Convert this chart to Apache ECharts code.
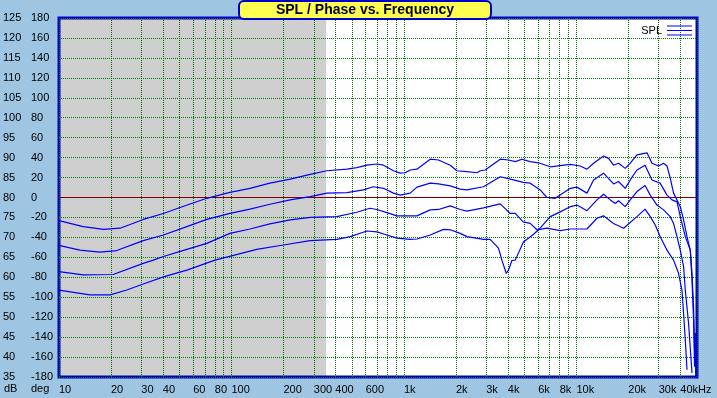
<!DOCTYPE html>
<html><head><meta charset="utf-8">
<script src="https://cdn.jsdelivr.net/npm/echarts@6/dist/echarts.min.js"></script>
<style>html,body{margin:0;padding:0;background:#9EC6E2;} #c{width:717px;height:398px;}</style>
</head><body><div id="c"></div>
<script>
// ---- data (frequency in Hz, SPL in dB) ----
const freqA = [10,13.8,18.1,22.6,30.8,40.3,50.3,71.9,98,128,167,219,286,357,467,533,610,697,761,869,951,1016,1087,1189,1420,1586,1854,2027,2317,2649,2768,2958,3615,4040,4418,4830,5395,6030,7047,9204,10520,11510,12570,14360,15350,16410,17540,19180,20510,22430,25640,27420,29940,31990,33500,35000,36560,38280,40000,41800,43750,45710,46770,47760,48400,48860,49200,49520];
const splA = [74.2,72.7,72.0,72.3,74.5,76.0,77.5,79.8,81.3,82.3,83.6,84.6,85.8,86.7,87.1,87.5,88.1,88.4,88.1,86.7,86.1,86.2,86.9,87.1,89.6,89.4,88.1,86.7,86.5,86.2,86.7,86.9,89.6,89.4,89.0,89.6,89.0,88.7,87.7,88.3,87.9,87.1,88.6,90.4,89.8,88.1,88.6,87.3,88.6,90.7,91.2,88.6,87.9,88.6,87.9,84.8,81.1,79.4,77.7,74.4,70.2,66.8,61.0,52.6,42,46,37,33];

const freqB = [10,13.2,17.3,21.6,30.8,40.3,55.1,71.9,98,128,167,219,286,357,467,582,665,761,869,951,1087,1189,1420,1586,1854,2118,2317,2891,3615,4315,4911,5395,6166,6745,7534,9204,10070,11510,12570,14360,16410,17540,19180,20510,22430,24990,27420,30550,33500,35810,38280,40000,42760,45710,46770,47760,48400,48900,49300];
const splB = [68.0,66.8,66.3,66.7,69.2,70.6,72.7,74.5,76.0,77.1,78.3,79.4,80.2,81.1,81.2,81.9,82.7,82.3,81.1,80.6,81.1,82.6,83.6,83.4,82.9,82.1,81.9,82.7,85.2,84.4,83.8,83.6,81.9,80.0,79.8,82.3,82.6,81.1,84.4,86.1,83.4,84.0,82.3,84.4,86.9,88.1,84.4,83.6,80.6,79.4,78.9,75.2,70.2,66.8,59.3,49.3,37.6,44,34];

const freqC = [10,13.8,20.6,30.8,35.2,40.3,55.1,71.9,98,128,167,219,286,408,533,636,697,796,910,1087,1189,1420,1586,1854,2118,2317,2891,3615,3758,4130,4418,4911,5395,5902,6745,8054,9204,10520,11510,13150,14360,16410,18770,22430,24990,26800,28650,30550,33500,36560,39070,40890,41800,42760,43750];
const splC = [61.4,60.6,60.7,63.5,64.3,65.2,67.0,68.5,71.0,72.1,73.4,74.4,75.0,75.2,76.3,77.3,77.0,76.2,75.4,75.4,75.4,76.9,77.0,77.9,77.0,76.6,77.4,78.4,77.7,76.0,76.0,73.9,73.5,71.9,72.3,71.7,72.1,72.1,72.1,74.8,75.4,73.5,72.3,75.2,77.1,75.2,73.1,70.2,66.8,64.3,61.0,56.8,51.0,44.3,36.8];

const freqD = [10,15.1,19.8,24.7,30.8,40.3,55.1,80.3,140,200,286,408,488,610,697,796,910,1087,1189,1420,1694,1854,2118,2317,2891,3162,3532,3697,3914,4040,4224,4418,4936,5272,5636,6030,7047,8054,9204,10070,11510,13150,14360,15720,16800,17540,19180,20510,22430,24990,26800,29300,31990,35000,36560,38280,40000,41800,42760,44670,46770];
const splD = [56.8,55.6,55.6,56.8,58.3,60.1,61.8,64.3,67.0,68.1,69.2,69.5,70.2,71.6,71.4,70.6,69.8,69.5,69.6,70.6,72.0,71.9,71.0,70.2,69.5,69.5,67.3,64.3,61.0,61.8,64.2,64.3,68.9,69.8,70.8,71.9,75.2,76.4,77.7,78.1,76.7,79.4,80.8,79.4,78.5,79.2,77.7,79.4,81.5,83.0,80.6,78.1,76.9,75.2,73.5,70.2,66.8,62.7,56.8,48.5,36.0];

// ---- ticks ----
const xGridValues = [10,20,30,40,50,60,70,80,90,100,200,300,400,500,600,700,800,900,1000,2000,3000,4000,5000,6000,7000,8000,9000,10000,20000,30000,40000,50000];
const xLabelValues = [10,20,30,40,60,80,100,200,300,400,600,1000,2000,3000,4000,6000,8000,10000,20000,30000,40000];
const xLabelTexts = ['10','20','30','40','60','80','100','200','300','400','600','1k','2k','3k','4k','6k','8k','10k','20k','30k','40kHz'];
const grayEndFreq = 354;
const refLineDb = 80;

const FONT = '"Liberation Sans", Arial, sans-serif';
function xLabel(v){
  let best = 0, bd = Infinity;
  xLabelValues.forEach((t,i)=>{const d=Math.abs(Math.log10(t)-Math.log10(v)); if(d<bd){bd=d;best=i;}});
  return bd < 0.01 ? xLabelTexts[best] : '';
}
const pairs = (f, s) => f.map((v,i)=>[v, s[i]]);
const lineSeries = (f, s) => ({
  type:'line', name:'SPL', data: pairs(f,s), symbol:'none', z:2,
  lineStyle:{color:'#0000FF', width:1.2}, itemStyle:{color:'#0000FF'}, silent:true
});

const chart = echarts.init(document.getElementById('c'), null, {renderer:'canvas'});
chart.setOption({
  backgroundColor:'#9EC6E2',
  animation:false,
  grid:{left:59, right:20, top:18, bottom:21, show:true, backgroundColor:'transparent', borderColor:'#0000CC', borderWidth:3},
  legend:{data:['SPL'], right:20, top:20, itemWidth:25, itemHeight:10, align:'right', selectedMode:false,
    icon:'path://M0 0H25V1H0Z M0 4.5H25V5.5H0Z M0 9H25V10H0Z',
    textStyle:{fontFamily:FONT, fontSize:11, color:'#000'}},
  xAxis:{type:'log', logBase:10, min:10, max:50000,
    axisLine:{show:false}, axisTick:{show:false, customValues:xGridValues},
    axisLabel:{customValues:xLabelValues, formatter:xLabel, align:'left', margin:7, color:'#000', fontFamily:FONT, fontSize:11},
    splitLine:{show:true, lineStyle:{color:'#007000', type:'dotted', width:1}}},
  yAxis:[
    {type:'value', min:35, max:125, interval:5, position:'left',
      axisLine:{show:false}, axisTick:{show:false},
      axisLabel:{align:'left', margin:56, color:'#000', fontFamily:FONT, fontSize:11},
      splitLine:{show:true, lineStyle:{color:'#008000', type:'dotted', width:1}}},
    {type:'value', min:-180, max:180, interval:20, position:'left',
      axisLine:{show:false}, axisTick:{show:false},
      axisLabel:{align:'left', margin:28, color:'#000', fontFamily:FONT, fontSize:11},
      splitLine:{show:false}}
  ],
  graphic:[
    {type:'rect', shape:{x:239, y:1, width:252, height:18, r:5}, style:{fill:'#FFFF50', stroke:'#0000CC', lineWidth:2}, z:20},
    {type:'text', x:365, y:10, style:{text:'SPL / Phase vs. Frequency', font:'bold 14px "Liberation Sans", Arial, sans-serif', fill:'#000', align:'center', verticalAlign:'middle'}, z:21},
    {type:'text', x:4, y:389, style:{text:'dB', font:'11px "Liberation Sans", Arial, sans-serif', fill:'#000', align:'left', verticalAlign:'middle'}},
    {type:'text', x:31, y:389, style:{text:'deg', font:'11px "Liberation Sans", Arial, sans-serif', fill:'#000', align:'left', verticalAlign:'middle'}}
  ],
  series:[
    {type:'line', name:'bg', data:[[10,35]], symbol:'none', lineStyle:{opacity:0}, silent:true, z:-1,
      markArea:{silent:true, z:-1, label:{show:false},
        data:[
          [{xAxis:10, yAxis:35, itemStyle:{color:'#FFFFFF'}}, {xAxis:50000, yAxis:125}],
          [{xAxis:10, yAxis:35, itemStyle:{color:'#CFCFCF'}}, {xAxis:grayEndFreq, yAxis:125}]
        ]},
      markLine:{silent:true, z:1, symbol:'none', label:{show:false}, lineStyle:{color:'#800000', type:'solid', width:1},
        data:[{yAxis:refLineDb}]}
    },
    lineSeries(freqA, splA),
    lineSeries(freqB, splB),
    lineSeries(freqC, splC),
    lineSeries(freqD, splD)
  ]
});
</script>
</body></html>
